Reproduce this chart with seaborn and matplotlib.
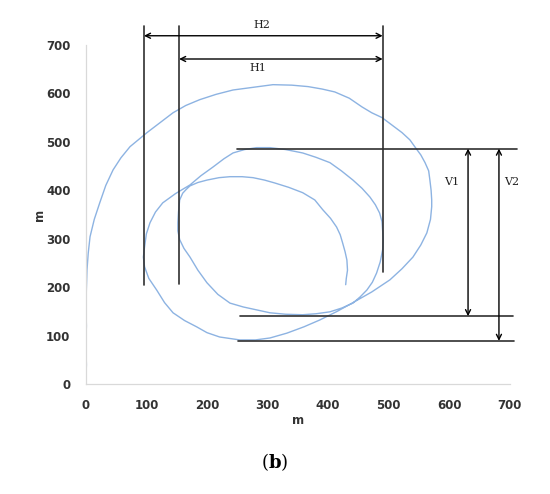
import matplotlib
matplotlib.use("Agg")
import matplotlib.pyplot as plt
import seaborn as sns
import pandas as pd

sns.set_theme(style="white")
plt.rcParams["mathtext.fontset"] = "dejavuserif"

# Trajectory (m)
track_x = [0, 1, 0, 1, 0, 1, 2, 4, 7, 14, 23, 33, 45, 58, 73, 101, 125, 144, 165, 188,
           215, 243, 273, 309, 340, 367, 390, 411, 435, 456, 472, 489, 505, 522, 535, 543,
           553, 560, 566, 568, 570, 571, 571, 569, 563, 553, 540, 522, 502, 472, 441, 415,
           386, 360, 332, 304, 280, 254, 221, 200, 183, 163, 144, 130, 117, 104, 97, 95,
           97, 100, 106, 115, 127, 148, 172, 190, 210, 228, 243, 262, 282, 304, 330, 358,
           380, 403, 422, 441, 456, 469, 478, 485, 489, 490, 491, 490, 486, 480, 473, 464,
           453, 441, 423, 403, 380, 358, 330, 304, 282, 260, 238, 218, 200, 185, 172, 162,
           155, 152, 152, 153, 155, 160, 166, 172, 185, 200, 220, 238, 258, 276, 295, 312,
           335, 358, 378, 391, 404, 414, 420, 424, 428, 431, 432, 430, 429]
track_y = [0, 40, 80, 120, 160, 200, 236, 270, 304, 340, 374, 410, 442, 467, 490, 519, 542,
           560, 575, 587, 598, 607, 612, 618, 617, 614, 609, 603, 590, 572, 560, 550, 535,
           519, 504, 490, 473, 457, 440, 421, 400, 380, 366, 340, 312, 287, 262, 238, 215,
           190, 168, 150, 132, 118, 105, 95, 91, 91, 97, 106, 118, 131, 147, 168, 194, 218,
           242, 262, 283, 310, 333, 355, 374, 393, 411, 430, 448, 465, 477, 484, 488, 488,
           484, 477, 468, 457, 440, 421, 404, 386, 370, 353, 335, 318, 298, 277, 252, 229,
           210, 194, 180, 167, 157, 149, 145, 143, 144, 147, 153, 159, 167, 185, 209, 235,
           262, 280, 298, 316, 333, 355, 380, 394, 402, 409, 416, 421, 426, 428, 428, 426,
           421, 415, 406, 395, 380, 360, 342, 324, 308, 291, 273, 256, 235, 218, 205]

x_ticks = [0, 100, 200, 300, 400, 500, 600, 700]
y_ticks = [0, 100, 200, 300, 400, 500, 600, 700]

# Dimension annotations (m)
H2 = (96, 490, 719)    # x from, x to, y
H1 = (154, 490, 671)
V1 = (631, 486, 140)   # x, y from, y to
V2 = (682, 486, 89)
ext_vert = [(96, 205, 740), (154, 207, 740), (490, 231, 740)]   # x, y0, y1
ext_horz = [(249, 711, 486), (254, 705, 140), (251, 707, 89)]   # x0, x1, y

df = pd.DataFrame({"x": track_x, "y": track_y})

fig = plt.figure(figsize=(5.5, 4.94), dpi=100)
ax = fig.add_axes([0.156, 0.2227, 0.771, 0.6863])

sns.lineplot(data=df, x="x", y="y", sort=False, estimator=None, ax=ax,
             color="#8DB3E2", linewidth=1.0)

ax.set_xlim(0, 700)
ax.set_ylim(0, 700)
ax.set_xticks(x_ticks)
ax.set_yticks(y_ticks)
ax.set_xticklabels([str(v) for v in x_ticks], fontsize=8.5, fontweight="bold", color="#333333")
ax.set_yticklabels([str(v) for v in y_ticks], fontsize=8.5, fontweight="bold", color="#333333")
ax.tick_params(axis="both", length=0)
ax.tick_params(axis="x", pad=11)
ax.tick_params(axis="y", pad=11)
for s in ["top", "right"]:
    ax.spines[s].set_visible(False)
for s in ["left", "bottom"]:
    ax.spines[s].set_color("#d9d9d9")
    ax.spines[s].set_linewidth(0.9)
ax.set_xlabel("m", fontsize=8.5, fontweight="bold", color="#333333", labelpad=1)
ax.set_ylabel("m", fontsize=8.5, fontweight="bold", color="#333333", labelpad=0)

lc = "#303030"
for x, y0, y1 in ext_vert:
    ax.plot([x, x], [y0, y1], color=lc, lw=1.2, clip_on=False)
for x0, x1, y in ext_horz:
    ax.plot([x0, x1], [y, y], color=lc, lw=1.2, clip_on=False)

arrow = dict(arrowstyle="<->", color="black", lw=1.0, shrinkA=0, shrinkB=0,
             mutation_scale=9)
for x0, x1, y in (H2, H1):
    ax.annotate("", xy=(x0, y), xytext=(x1, y), arrowprops=arrow, annotation_clip=False)
for x, y0, y1 in (V1, V2):
    ax.annotate("", xy=(x, y0), xytext=(x, y1), arrowprops=arrow, annotation_clip=False)

tkw = dict(fontsize=8, family="DejaVu Serif", color="#222222", ha="center", va="center",
           clip_on=False)
ax.text(290, 742, "H2", **tkw)
ax.text(284, 653, "H1", **tkw)
ax.text(604, 417, "V1", **tkw)
ax.text(703, 417, "V2", **tkw)

fig.text(0.5, 1 - 462 / 494, r"($\mathbf{b}$)", ha="center", va="center", fontsize=13,
         family="DejaVu Serif", color="black")

fig.savefig("out.png", dpi=100)
